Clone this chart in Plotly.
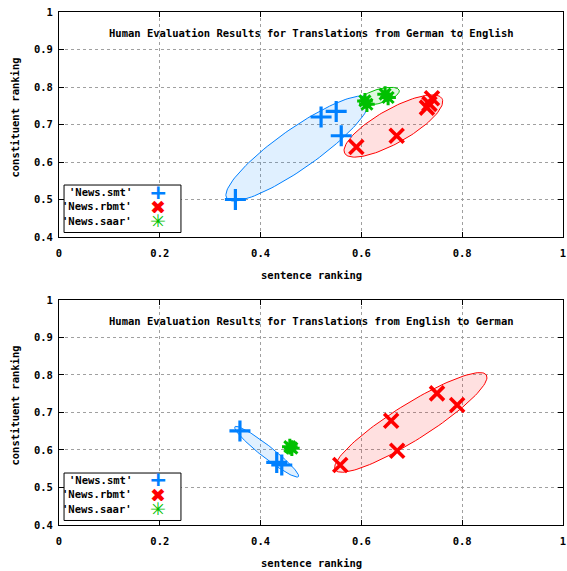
import numpy as np
import plotly.graph_objects as go

# ---------------- data ----------------
series_names = ["'News.smt'", "'News.rbmt'", "'News.saar'"]

# German -> English (top panel)
de_en_smt_x = [0.35, 0.52, 0.55, 0.56]
de_en_smt_y = [0.50, 0.72, 0.735, 0.67]
de_en_rbmt_x = [0.59, 0.67, 0.73, 0.735, 0.74]
de_en_rbmt_y = [0.64, 0.67, 0.745, 0.755, 0.77]
de_en_saar_x = [0.607, 0.611, 0.647, 0.653]
de_en_saar_y = [0.763, 0.754, 0.781, 0.772]

# English -> German (bottom panel)
en_de_smt_x = [0.359, 0.432, 0.442]
en_de_smt_y = [0.651, 0.567, 0.560]
en_de_rbmt_x = [0.558, 0.659, 0.671, 0.750, 0.790]
en_de_rbmt_y = [0.560, 0.678, 0.598, 0.751, 0.720]
en_de_saar_x = [0.458, 0.462]
en_de_saar_y = [0.609, 0.605]

titles = ["Human Evaluation Results for Translations from German to English",
          "Human Evaluation Results for Translations from English to German"]
x_title = "sentence ranking"
y_title = "constituent ranking"
x_ticks = [0, 0.2, 0.4, 0.6, 0.8, 1]
y_ticks = [0.4, 0.5, 0.6, 0.7, 0.8, 0.9, 1]

# ellipse outlines: major-axis end points (data units) and semi-minor axis (px)
ellipses_top = [
    dict(p1=(0.333, 0.503), p2=(0.614, 0.769), b=20),
    dict(p1=(0.567, 0.623), p2=(0.760, 0.769), b=17),
    dict(p1=(0.596, 0.760), p2=(0.675, 0.791), b=7),
]
ellipses_bot = [
    dict(p1=(0.349, 0.662), p2=(0.475, 0.529), b=6),
    dict(p1=(0.548, 0.547), p2=(0.848, 0.800), b=18),
]

# ---------------- style ----------------
COLORS = ["#0080ff", "#ff0000", "#00c000"]
FILLS = ["rgba(0,128,255,0.12)", "rgba(255,0,0,0.12)", "rgba(0,192,0,0.12)"]
FONT = "DejaVu Sans Mono"
SX, SY = 504.0, 375.0  # px per data unit (x, y)


def ellipse_path(p1, p2, b, n=120):
    x1, y1 = p1[0] * SX, p1[1] * SY
    x2, y2 = p2[0] * SX, p2[1] * SY
    cx, cy = (x1 + x2) / 2, (y1 + y2) / 2
    ax, ay = (x2 - x1) / 2, (y2 - y1) / 2
    a = np.hypot(ax, ay)
    px, py = -ay / a * b, ax / a * b
    t = np.linspace(0, 2 * np.pi, n)
    X = cx + ax * np.cos(t) + px * np.sin(t)
    Y = cy + ay * np.cos(t) + py * np.sin(t)
    return X / SX, Y / SY


fig = go.Figure()

panels = [
    dict(xa="x", ya="y",
         ell=[(ellipses_top[0], 0), (ellipses_top[1], 1), (ellipses_top[2], 2)],
         data=[(de_en_smt_x, de_en_smt_y), (de_en_rbmt_x, de_en_rbmt_y), (de_en_saar_x, de_en_saar_y)]),
    dict(xa="x2", ya="y2",
         ell=[(ellipses_bot[0], 0), (ellipses_bot[1], 1)],
         data=[(en_de_smt_x, en_de_smt_y), (en_de_rbmt_x, en_de_rbmt_y), (en_de_saar_x, en_de_saar_y)]),
]

marker_styles = [
    dict(symbol="cross-thin", size=15, line=dict(width=3.2, color=COLORS[0])),
    dict(symbol="x-thin", size=14, line=dict(width=3.6, color=COLORS[1])),
    dict(symbol="asterisk", size=13, line=dict(width=3, color=COLORS[2])),
]

for p in panels:
    for e, ci in p["ell"]:
        ex, ey = ellipse_path(e["p1"], e["p2"], e["b"])
        fig.add_trace(go.Scatter(x=ex, y=ey, mode="lines", fill="toself",
                                 fillcolor=FILLS[ci], line=dict(color=COLORS[ci], width=1),
                                 xaxis=p["xa"], yaxis=p["ya"], showlegend=False, hoverinfo="skip"))
    for i, (xs, ys) in enumerate(p["data"]):
        fig.add_trace(go.Scatter(x=xs, y=ys, mode="markers", name=series_names[i],
                                 marker=dict(color=COLORS[i], **marker_styles[i]),
                                 xaxis=p["xa"], yaxis=p["ya"], showlegend=False))

axis_common = dict(showline=True, linecolor="black", linewidth=1, mirror="ticks",
                   ticks="inside", ticklen=5, tickcolor="black", showgrid=True,
                   gridcolor="#a0a0a0", griddash="dot", gridwidth=1, zeroline=False,
                   automargin=False,
                   tickfont=dict(family=FONT, size=10.5, color="black", weight="bold"))

xa = dict(axis_common, range=[0, 1], tickvals=x_ticks, ticklabelstandoff=6)
ya = dict(axis_common, range=[0.4, 1], tickvals=y_ticks, ticklabelstandoff=3)

fig.update_layout(
    width=567, height=571, margin=dict(l=59, r=4, t=12, b=46, autoexpand=False),
    paper_bgcolor="white", plot_bgcolor="white", showlegend=False,
    xaxis=dict(xa, domain=[0, 1], anchor="y"),
    yaxis=dict(ya, domain=[0.5614, 1], anchor="x"),
    xaxis2=dict(xa, domain=[0, 1], anchor="y2"),
    yaxis2=dict(ya, domain=[0, 0.4386], anchor="x2"),
)

tf = dict(family=FONT, size=10.5, color="black", weight="bold")
annotations = []
shapes = []
glyphs = ["+", "✖", "✳"]
gsize = [22, 19, 19]
for k, (xr, yr) in enumerate([("x", "y"), ("x2", "y2")]):
    xd, yd = xr + " domain", yr + " domain"
    annotations.append(dict(text=titles[k], xref=xd, yref=yd, x=0.5, y=0.907,
                            xanchor="center", yanchor="middle", showarrow=False, font=tf))
    annotations.append(dict(text=x_title, xref=xd, yref=yd, x=0.5, y=0, yshift=-38,
                            xanchor="center", yanchor="middle", showarrow=False, font=tf))
    annotations.append(dict(text=y_title, xref="paper", yref=yd, x=0, xshift=-44, y=0.531,
                            xanchor="center", yanchor="middle", textangle=-90,
                            showarrow=False, font=tf))
    # legend box
    shapes.append(dict(type="rect", xref=xd, yref=yd, x0=0.010, x1=0.242, y0=0.02, y1=0.231,
                       line=dict(color="black", width=1), fillcolor="white", layer="above"))
    for i, name in enumerate(series_names):
        yy = 0.2 - i * 0.064
        annotations.append(dict(text=name, xref=xd, yref=yd, x=0.149, y=yy,
                                xanchor="right", yanchor="middle", showarrow=False, font=tf))
        annotations.append(dict(text="<b>" + glyphs[i] + "</b>", xref=xd, yref=yd, x=0.196, y=yy,
                                xanchor="center", yanchor="middle", showarrow=False,
                                height=13, valign="middle",
                                font=dict(family="DejaVu Sans", size=gsize[i], color=COLORS[i])))

fig.update_layout(annotations=annotations, shapes=shapes)
fig.write_html("out.html", config={"displayModeBar": False},
               post_script="document.body.style.margin='0px';")
